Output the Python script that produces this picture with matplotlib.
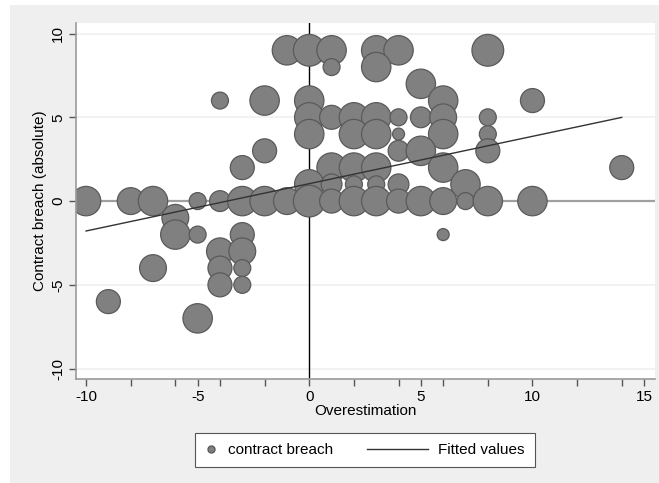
import numpy as np
import matplotlib
matplotlib.use('Agg')
import matplotlib.pyplot as plt
from matplotlib.patches import Rectangle
from matplotlib.lines import Line2D
from matplotlib.legend_handler import HandlerLine2D

plt.rcParams['font.family'] = ['Liberation Sans', 'DejaVu Sans']

# overestimation, contract breach, weight (number of cases)
over = [-1, 0, 1, 3, 4, 8,
        1, 3,
        5,
        -4, -2, 0, 6, 10,
        0, 1, 2, 3, 4, 5, 6, 8,
        0, 2, 3, 4, 6, 8,
        -2, 4, 5, 8,
        -3, 1, 2, 3, 6, 14,
        0, 1, 2, 3, 4, 7,
        -10, -8, -7, -5, -4, -3, -2, -1, 0, 1, 2, 3, 4, 5, 6, 7, 8, 10,
        -6,
        -6, -5, -3, 6,
        -4, -3,
        -7, -4, -3,
        -4, -3,
        -9,
        -5]
breach = [9, 9, 9, 9, 9, 9,
          8, 8,
          7,
          6, 6, 6, 6, 6,
          5, 5, 5, 5, 5, 5, 5, 5,
          4, 4, 4, 4, 4, 4,
          3, 3, 3, 3,
          2, 2, 2, 2, 2, 2,
          1, 1, 1, 1, 1, 1,
          0, 0, 0, 0, 0, 0, 0, 0, 0, 0, 0, 0, 0, 0, 0, 0, 0, 0,
          -1,
          -2, -2, -2, -2,
          -3, -3,
          -4, -4, -4,
          -5, -5,
          -6,
          -7]
weight = [6, 7, 6, 6, 6, 7,
          2, 6,
          6,
          2, 6, 6, 6, 4,
          6, 4, 6, 6, 2, 3, 5, 2,
          6, 6, 6, 1, 6, 2,
          4, 3, 6, 4,
          4, 6, 6, 6, 6, 4,
          6, 3, 2, 2, 3, 6,
          6, 5, 6, 2, 3, 6, 6, 5, 7, 4, 6, 6, 4, 6, 5, 2, 6, 6,
          5,
          6, 2, 4, 1,
          5, 5,
          5, 4, 2,
          4, 2,
          4,
          6]

# fitted regression line
fit_x = [-10, 14]
fit_intercept = 1.04
fit_slope = 0.2825


class LongLine(HandlerLine2D):
    # line sample longer than the (short) handle box, reaching to the left
    def get_xdata(self, legend, xdescent, ydescent, width, height, fontsize):
        x0 = -xdescent + width - 44
        x1 = -xdescent + width
        return [x0, x1], [x1]


fig = plt.figure(figsize=(6.59, 4.83), dpi=100)
fig.patch.set_facecolor('white')
fig.patches.append(Rectangle((10/659, 0), 1, 478/483, transform=fig.transFigure,
                             facecolor='#efefef', edgecolor='none', zorder=-10))

ax = fig.add_axes([76/659, 1 - 379/483, 579/659, 356/483])
ax.set_facecolor('white')

for y in [-10, -5, 5, 10]:
    ax.axhline(y, color='#f0f0f0', lw=1.2, zorder=0)
ax.axhline(0, color='#a0a0a0', lw=1.6, zorder=1)
ax.axvline(0, color='black', lw=1.0, zorder=1)

s = np.array(weight) * 74.6
ax.scatter(over, breach, s=s, c='#808080', edgecolors='#5a5a5a', linewidths=0.9, zorder=2)

fx = np.array(fit_x)
ax.plot(fx, fit_intercept + fit_slope * fx, color='#333333', lw=1.0, zorder=3)

ax.set_xlim(-10.45, 15.49)
ax.set_ylim(-10.62, 10.63)

fs = 11
xt = [-10, -8, -6, -5, -4, -2, 0, 2, 4, 5, 6, 8, 10, 12, 14, 15]
ax.set_xticks(xt)
ax.set_xticklabels([str(v) if v % 5 == 0 else '' for v in xt], fontsize=fs)
ax.set_yticks([-10, -5, 0, 5, 10])
ax.set_yticklabels(['-10', '-5', '0', '5', '10'], fontsize=fs, rotation=90, va='center')
ax.tick_params(axis='both', length=5, width=1, color='#555555', pad=3)

for side in ['top', 'right']:
    ax.spines[side].set_visible(False)
for side in ['left', 'bottom']:
    ax.spines[side].set_color('#999999')
    ax.spines[side].set_linewidth(1.2)

ax.set_xlabel('Overestimation', fontsize=fs, labelpad=0)
ax.set_ylabel('Contract breach (absolute)', fontsize=fs, labelpad=3)

dot = Line2D([], [], marker='o', ls='none', color='#808080', markeredgecolor='#5a5a5a',
             markersize=5)
fitline = Line2D([], [], color='#333333', lw=1.0)
leg = fig.legend([dot, fitline], ['contract breach', 'Fitted values'], loc='center',
                 bbox_to_anchor=(365/659, 1 - 450/483), ncol=2, fontsize=fs,
                 frameon=True, fancybox=False, edgecolor='#555555', framealpha=1,
                 handlelength=0.8, columnspacing=5.4, borderpad=0.65, handletextpad=0.7,
                 borderaxespad=0, numpoints=1, handler_map={fitline: LongLine()})
leg.get_frame().set_linewidth(0.8)

fig.savefig('out.png', dpi=100)
